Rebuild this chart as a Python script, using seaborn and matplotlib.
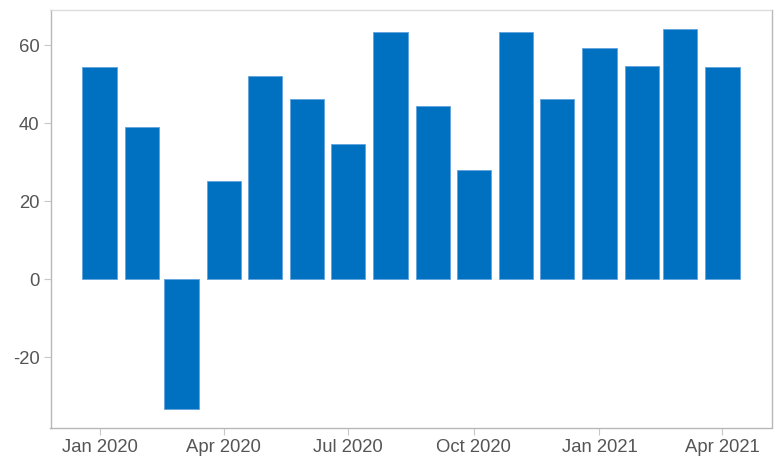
import datetime as dt

import matplotlib
matplotlib.use("Agg")
import matplotlib.dates as mdates
import matplotlib.pyplot as plt
import pandas as pd
import seaborn as sns

# ── Data ─────────────────────────────────────────────────────────────────────
months = pd.date_range("2020-01-01", "2021-04-01", freq="MS")
values = [54.3, 39.1, -33.4, 25.1, 52.2, 46.3, 34.6, 63.3,
          44.4, 28.0, 63.3, 46.2, 59.2, 54.6, 64.0, 54.3]
tick_months = [1, 4, 7, 10]

BAR_COLOR = "#0070C0"
TEXT_COLOR = "#555555"

df = pd.DataFrame({"date": mdates.date2num(months.to_pydatetime()), "value": values})

sns.set_theme(style="white")
plt.rcParams["font.family"] = ["Liberation Sans", "DejaVu Sans"]
plt.rcParams["axes.unicode_minus"] = False

fig = plt.figure(figsize=(7.76, 4.58), dpi=100)
ax = fig.add_axes([50.5 / 776, 30 / 458, 721 / 776, 418 / 458])

sns.barplot(
    data=df, x="date", y="value", native_scale=True, width=0.9,
    color=BAR_COLOR, saturation=1, edgecolor="#5fa3dd", linewidth=0.6, ax=ax,
)

x0 = mdates.date2num(dt.datetime(2020, 1, 1)) - 36
x1 = mdates.date2num(dt.datetime(2021, 4, 1)) + 36
ax.set_xlim(x0, x1)
ax.set_ylim(-38.2, 69)

ax.xaxis.set_major_locator(mdates.MonthLocator(bymonth=tick_months))
ax.xaxis.set_major_formatter(mdates.DateFormatter("%b %Y"))
ax.set_yticks([-20, 0, 20, 40, 60])

ax.set_xlabel("")
ax.set_ylabel("")
ax.tick_params(axis="both", which="major", length=5, width=0.8, color="#c8c8c8",
               labelsize=13.3, labelcolor=TEXT_COLOR, pad=3, bottom=True, left=True)

for side in ["left", "bottom", "right"]:
    ax.spines[side].set_color("#b8b8b8")
    ax.spines[side].set_linewidth(1.0)
ax.spines["top"].set_color("#dcdcdc")
ax.spines["top"].set_linewidth(1.0)

fig.savefig("out.png", dpi=100)
plt.close(fig)
